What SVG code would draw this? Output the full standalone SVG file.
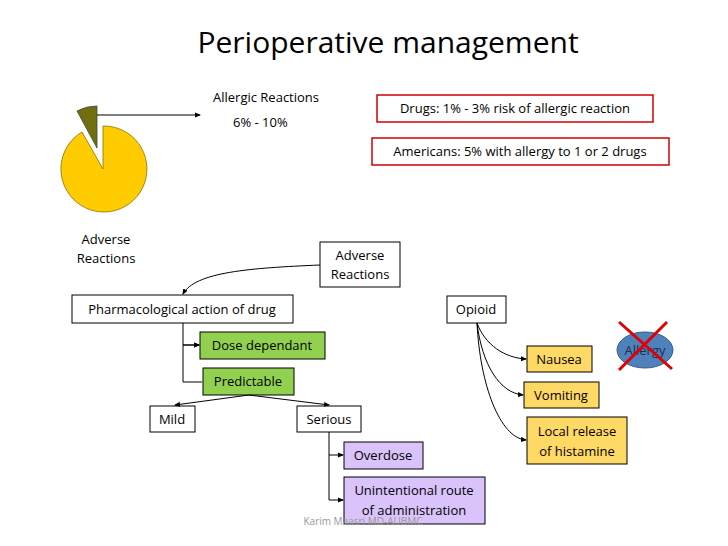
<svg xmlns="http://www.w3.org/2000/svg" width="728" height="546" viewBox="0 0 728 546">
<defs>
<style>
text{font-family:"Open Sans","Liberation Sans",sans-serif;font-size:13px;fill:#000}
.b{stroke:#000;stroke-width:1}
.w{fill:#fff}.g{fill:#92D050}.y{fill:#FFD966}.p{fill:#D9C3FA}
.r{fill:#fff;stroke:#D00000;stroke-width:1.5}
.c{fill:none;stroke:#000;stroke-width:1}
</style>
<marker id="a" markerWidth="6" markerHeight="6" refX="5" refY="3" orient="auto"><path d="M0,0.5 L6,3 L0,5.5z" fill="#000"/></marker>
</defs>
<rect width="728" height="546" fill="#fff"/>
<text x="388" y="53" text-anchor="middle" style="font-size:30px">Perioperative management</text>
<g id="pie">
<path d="M103,169 L103,126 A43,43 0 1 1 82,132 Z" fill="#FFCC00" stroke="#8B7000" stroke-width="0.8"/>
<path d="M97,148 L97,106 A42,42 0 0 0 77,111 Z" fill="#6F6F10" stroke="#444" stroke-width="0.8"/>
</g>
<g id="allergic"><text x="213" y="102">Allergic Reactions</text><text x="233" y="127">6% - 10%</text></g>
<g id="drugs"><rect class="r" x="377" y="95" width="276" height="27"/><text x="515" y="113" text-anchor="middle">Drugs: 1% - 3% risk of allergic reaction</text></g>
<g id="americans"><rect class="r" x="372" y="138" width="297" height="27"/><text x="520" y="156" text-anchor="middle">Americans: 5% with allergy to 1 or 2 drugs</text></g>
<g id="adverse-label"><text x="106" y="244" text-anchor="middle">Adverse</text><text x="106" y="263" text-anchor="middle">Reactions</text></g>
<g id="adverse"><rect class="b w" x="320" y="242" width="80" height="45"/><text x="360" y="260" text-anchor="middle">Adverse</text><text x="360" y="279" text-anchor="middle">Reactions</text></g>
<g id="pharm"><rect class="b w" x="72" y="295" width="221" height="28"/><text x="182" y="314" text-anchor="middle">Pharmacological action of drug</text></g>
<g id="dose"><rect class="b g" x="200" y="332" width="125" height="27"/><text x="262" y="350" text-anchor="middle">Dose dependant</text></g>
<g id="predictable"><rect class="b g" x="203" y="368" width="91" height="27"/><text x="248" y="386" text-anchor="middle">Predictable</text></g>
<g id="mild"><rect class="b w" x="150" y="406" width="45" height="26"/><text x="172" y="424" text-anchor="middle">Mild</text></g>
<g id="serious"><rect class="b w" x="297" y="406" width="64" height="26"/><text x="329" y="424" text-anchor="middle">Serious</text></g>
<g id="overdose"><rect class="b p" x="344" y="442" width="79" height="27"/><text x="383" y="460" text-anchor="middle">Overdose</text></g>
<g id="unintentional"><rect class="b p" x="344" y="477" width="141" height="47"/><text x="414" y="495" text-anchor="middle">Unintentional route</text><text x="414" y="515" text-anchor="middle">of administration</text></g>
<g id="opioid"><rect class="b w" x="447" y="296" width="59" height="27"/><text x="476" y="314" text-anchor="middle">Opioid</text></g>
<g id="nausea"><rect class="b y" x="527" y="346" width="65" height="26"/><text x="559" y="364" text-anchor="middle">Nausea</text></g>
<g id="vomiting"><rect class="b y" x="524" y="382" width="75" height="26"/><text x="561" y="400" text-anchor="middle">Vomiting</text></g>
<g id="histamine"><rect class="b y" x="527" y="417" width="100" height="47"/><text x="577" y="436" text-anchor="middle">Local release</text><text x="577" y="456" text-anchor="middle">of histamine</text></g>
<g id="allergy"><ellipse cx="645" cy="350" rx="28" ry="18" fill="#4F81BD" stroke="#385D8A"/><text x="645" y="355" text-anchor="middle" style="fill:#1F2D4A">Allergy</text>
<path d="M619,322 L672,369 M667,322 L619,370" stroke="#E00000" stroke-width="3"/></g>
<g id="connectors">
<path class="c" d="M97,115 L200,115" marker-end="url(#a)"/>
<path class="c" d="M320,265 C250,268 195,272 183,294" marker-end="url(#a)"/>
<path class="c" d="M183,323 L183,382 L202,382 M183,345 L199,345" marker-end="url(#a)"/>
<path class="c" d="M183,345 L199,345" marker-end="url(#a)"/>
<path class="c" d="M249,395 L175,405" marker-end="url(#a)"/>
<path class="c" d="M249,395 L329,405" marker-end="url(#a)"/>
<path class="c" d="M329,432 L329,500 L343,500" marker-end="url(#a)"/>
<path class="c" d="M329,455 L343,455" marker-end="url(#a)"/>
<path class="c" d="M477,323 C485,345 505,358 526,359" marker-end="url(#a)"/>
<path class="c" d="M477,323 C482,365 500,393 523,395" marker-end="url(#a)"/>
<path class="c" d="M477,323 C480,385 500,438 526,440" marker-end="url(#a)"/>
</g>
<text x="363" y="525" text-anchor="middle" style="font-size:10px;fill:#999">Karim Maasri MD-AUBMC</text>
</svg>
